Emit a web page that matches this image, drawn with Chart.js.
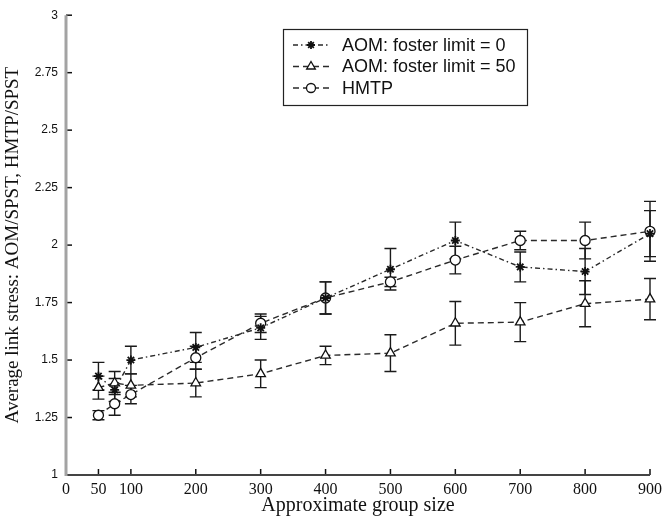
<!DOCTYPE html>
<html lang="en">
<head>
  <meta charset="UTF-8">
  <title>Average link stress vs group size</title>
  <script src="https://cdn.jsdelivr.net/npm/chart.js"></script>
  <style>
    body {
      margin: 0;
      background: #ffffff;
    }
    #wrap {
      width: 667px;
      height: 518px;
    }
  </style>
</head>
<body>
  <div id="wrap">
    <canvas id="chart" width="667" height="518"></canvas>
  </div>

  <script>
    // data
    const groupSize = [50, 75, 100, 200, 300, 400, 500, 600, 700, 800, 900];

    const aomLimit0    = [1.43, 1.37, 1.50, 1.555, 1.64, 1.77, 1.895, 2.02, 1.905, 1.885, 2.05];
    const aomLimit0Err = [0.06, 0.05, 0.06, 0.065, 0.05, 0.07, 0.09, 0.08, 0.065, 0.10, 0.10];

    const aomLimit50    = [1.38, 1.40, 1.39, 1.40, 1.44, 1.52, 1.53, 1.66, 1.665, 1.745, 1.765];
    const aomLimit50Err = [0.05, 0.05, 0.05, 0.06, 0.06, 0.04, 0.08, 0.095, 0.085, 0.10, 0.09];

    const hmtp    = [1.26, 1.31, 1.35, 1.51, 1.66, 1.77, 1.84, 1.935, 2.02, 2.02, 2.06];
    const hmtpErr = [0.02, 0.05, 0.04, 0.05, 0.04, 0.07, 0.02, 0.06, 0.04, 0.08, 0.13];

    const xTicks = [0, 50, 100, 200, 300, 400, 500, 600, 700, 800, 900];
    const yTicks = [1, 1.25, 1.5, 1.75, 2, 2.25, 2.5, 2.75, 3];

    const seriesNames = ['AOM: foster limit = 0', 'AOM: foster limit = 50', 'HMTP'];
    const errors = [aomLimit0Err, aomLimit50Err, hmtpErr];

    const toPoints = vals => groupSize.map((g, i) => ({ x: g, y: vals[i] }));

    const serif = '"Liberation Serif", "Times New Roman", serif';
    const sans = '"Liberation Sans", Arial, sans-serif';

    // axes, inward ticks and error bars like the matlab figure
    const figurePlugin = {
      id: 'figurePlugin',
      beforeDatasetsDraw(chart) {
        const ctx = chart.ctx;
        const xs = chart.scales.x, ys = chart.scales.y;
        const area = chart.chartArea;
        ctx.save();

        // error bars
        ctx.strokeStyle = '#1a1a1a';
        ctx.lineWidth = 1.4;
        chart.data.datasets.forEach((ds, i) => {
          const err = errors[i];
          ds.data.forEach((p, j) => {
            const px = xs.getPixelForValue(p.x);
            const top = ys.getPixelForValue(p.y + err[j]);
            const bot = ys.getPixelForValue(p.y - err[j]);
            ctx.beginPath();
            ctx.moveTo(px, top); ctx.lineTo(px, bot);
            ctx.moveTo(px - 6, top); ctx.lineTo(px + 6, top);
            ctx.moveTo(px - 6, bot); ctx.lineTo(px + 6, bot);
            ctx.stroke();
          });
        });

        // ticks pointing into the plot
        ctx.strokeStyle = '#111';
        ctx.lineWidth = 1.5;
        xTicks.forEach(v => {
          const px = xs.getPixelForValue(v);
          ctx.beginPath();
          ctx.moveTo(px, area.bottom);
          ctx.lineTo(px, area.bottom - 6);
          ctx.stroke();
        });
        yTicks.forEach(v => {
          const py = ys.getPixelForValue(v);
          ctx.beginPath();
          ctx.moveTo(area.left, py);
          ctx.lineTo(area.left + 6, py);
          ctx.stroke();
        });

        // axis lines
        ctx.strokeStyle = '#444';
        ctx.lineWidth = 2;
        ctx.beginPath();
        ctx.moveTo(area.left, area.bottom);
        ctx.lineTo(area.right, area.bottom);
        ctx.stroke();
        ctx.strokeStyle = '#a3a3a3';
        ctx.lineWidth = 3;
        ctx.beginPath();
        ctx.moveTo(area.left, area.top);
        ctx.lineTo(area.left, area.bottom + 1);
        ctx.stroke();
        ctx.restore();
      },
      afterDraw(chart) {
        // boxed legend inside the plot, top right
        const ctx = chart.ctx;
        const boxX = 283, boxY = 29, boxW = 244, boxH = 76;
        ctx.save();
        ctx.fillStyle = '#fff';
        ctx.fillRect(boxX, boxY, boxW, boxH);
        ctx.strokeStyle = '#222';
        ctx.lineWidth = 1.2;
        ctx.strokeRect(boxX + 0.5, boxY + 0.5, boxW, boxH);

        chart.data.datasets.forEach((ds, i) => {
          const y = boxY + 16 + i * 21.5;
          ctx.strokeStyle = ds.borderColor;
          ctx.lineWidth = ds.borderWidth;
          ctx.setLineDash(ds.borderDash);
          ctx.beginPath();
          ctx.moveTo(boxX + 10, y);
          ctx.lineTo(boxX + 46, y);
          ctx.stroke();
          ctx.setLineDash([]);
          ctx.fillStyle = ds.pointBackgroundColor;
          ctx.strokeStyle = ds.pointBorderColor;
          ctx.lineWidth = ds.pointBorderWidth;
          Chart.helpers.drawPoint(ctx, {
            pointStyle: ds.pointStyle,
            radius: ds.pointRadius - 0.5,
            borderWidth: ds.pointBorderWidth,
            rotation: 0
          }, boxX + 28, y);

          ctx.fillStyle = '#111';
          ctx.font = '18px ' + sans;
          ctx.textBaseline = 'middle';
          ctx.fillText(ds.label, boxX + 59, y + 1);
        });
        ctx.restore();
      }
    };

    const lineStyle = {
      borderColor: '#2a2a2a',
      borderWidth: 1.4,
      pointBorderColor: '#111',
      pointBorderWidth: 1.3,
      tension: 0,
      clip: false
    };

    new Chart(document.getElementById('chart').getContext('2d'), {
      type: 'line',
      data: {
        datasets: [
          Object.assign({}, lineStyle, {
            label: seriesNames[0],
            data: toPoints(aomLimit0),
            borderDash: [5, 3, 1.5, 3],
            pointStyle: 'star',
            pointRadius: 4.5,
            pointBorderWidth: 1.8,
            pointBackgroundColor: '#111'
          }),
          Object.assign({}, lineStyle, {
            label: seriesNames[1],
            data: toPoints(aomLimit50),
            borderDash: [6, 4],
            pointStyle: 'triangle',
            pointRadius: 5.5,
            pointBackgroundColor: '#fff'
          }),
          Object.assign({}, lineStyle, {
            label: seriesNames[2],
            data: toPoints(hmtp),
            borderDash: [6, 4],
            pointStyle: 'circle',
            pointRadius: 5,
            pointBackgroundColor: '#fff'
          })
        ]
      },
      options: {
        responsive: false,
        animation: false,
        layout: { padding: { top: 13, right: 12, left: 0, bottom: 0 } },
        plugins: {
          legend: { display: false },
          tooltip: { enabled: false }
        },
        scales: {
          x: {
            type: 'linear',
            min: 0,
            max: 900,
            afterBuildTicks: scale => { scale.ticks = xTicks.map(v => ({ value: v })); },
            afterFit: scale => { scale.height = 43; },
            grid: { display: false, drawTicks: false },
            border: { display: false },
            ticks: {
              color: '#111',
              padding: 5,
              maxRotation: 0,
              autoSkip: false,
              font: { family: serif, size: 16 },
              callback: v => String(v)
            },
            title: {
              display: true,
              text: 'Approximate group size',
              color: '#111',
              font: { family: serif, size: 20 },
              padding: { top: 0, bottom: 0 }
            }
          },
          y: {
            type: 'linear',
            min: 1,
            max: 3,
            afterBuildTicks: scale => { scale.ticks = yTicks.map(v => ({ value: v })); },
            afterFit: scale => { scale.width = 66; },
            grid: { display: false, drawTicks: false },
            border: { display: false },
            ticks: {
              color: '#111',
              padding: 8,
              autoSkip: false,
              font: { family: sans, size: 12 },
              callback: v => String(v)
            },
            title: {
              display: true,
              text: 'Average link stress: AOM/SPST, HMTP/SPST',
              color: '#111',
              font: { family: serif, size: 19 },
              padding: { top: 2, bottom: 0 }
            }
          }
        }
      },
      plugins: [figurePlugin]
    });
  </script>
</body>
</html>
